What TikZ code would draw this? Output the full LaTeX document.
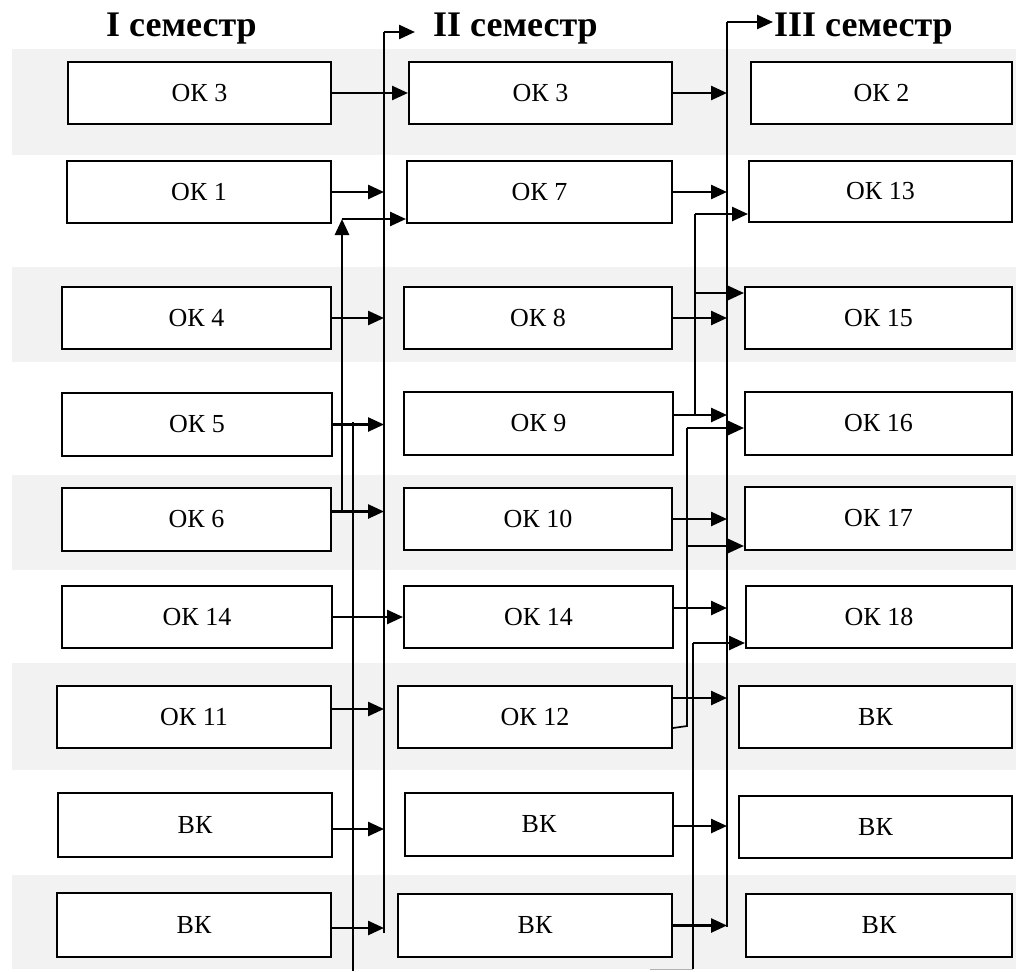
\documentclass[tikz,border=0pt]{standalone}
\usepackage{fontspec}
\setmainfont{Liberation Serif}
\usetikzlibrary{arrows.meta,calc}
\definecolor{band}{HTML}{F2F2F2}
\newcommand{\bx}[6]{%
  \pgfmathsetmacro\bw{#4-#2}\pgfmathsetmacro\bh{#5-#3}%
  \node[box,minimum width=\bw pt,minimum height=\bh pt] (#1) at ({(#2+#4)/2},{(#3+#5)/2}) {#6};}
\begin{document}
\begin{tikzpicture}[x=1pt,y=-1pt,
  box/.style={draw=black,line width=2pt,fill=white,inner sep=0pt,font=\fontsize{26}{30}\selectfont},
  arr/.style={line width=2.5pt,-{Triangle[length=16pt,width=14pt]}},
  vline/.style={line width=1.7pt},
  title/.style={font=\fontsize{36}{40}\selectfont\bfseries,anchor=base west,inner sep=0pt}]
\useasboundingbox (0,0) rectangle (1016,971);
% background bands
\fill[band] (12,49) rectangle (1016,155);
\fill[band] (12,267) rectangle (1016,362);
\fill[band] (12,475) rectangle (1016,570);
\fill[band] (12,663) rectangle (1016,770);
\fill[band] (12,875) rectangle (1016,969);
% titles
\node[title] (t1) at (106,37) {I семестр};
\node[title] (t2) at (433,37) {II семестр};
\node[title] (t3) at (774,37) {III семестр};
% column 1
\bx{a1}{68}{62}{331}{124}{ОК 3}
\bx{a2}{67}{161}{331}{223}{ОК 1}
\bx{a3}{62}{287}{331}{349}{ОК 4}
\bx{a4}{62}{393}{332}{456}{ОК 5}
\bx{a5}{62}{488}{331}{551}{ОК 6}
\bx{a6}{62}{586}{332}{648}{ОК 14}
\bx{a7}{57}{686}{331}{748}{ОК 11}
\bx{a8}{58}{793}{332}{857}{ВК}
\bx{a9}{57}{893}{331}{957}{ВК}
% column 2
\bx{b1}{409}{62}{672}{124}{ОК 3}
\bx{b2}{407}{161}{672}{223}{ОК 7}
\bx{b3}{404}{287}{672}{349}{ОК 8}
\bx{b4}{404}{392}{673}{455}{ОК 9}
\bx{b5}{404}{488}{672}{550}{ОК 10}
\bx{b6}{404}{586}{673}{648}{ОК 14}
\bx{b7}{398}{686}{672}{748}{ОК 12}
\bx{b8}{405}{793}{673}{856}{ВК}
\bx{b9}{398}{894}{672}{957}{ВК}
% column 3
\bx{c1}{751}{62}{1012}{124}{ОК 2}
\bx{c2}{749}{161}{1012}{222}{ОК 13}
\bx{c3}{745}{287}{1012}{349}{ОК 15}
\bx{c4}{745}{392}{1012}{455}{ОК 16}
\bx{c5}{745}{487}{1012}{550}{ОК 17}
\bx{c6}{746}{586}{1012}{648}{ОК 18}
\bx{c7}{739}{686}{1012}{748}{ВК}
\bx{c8}{739}{796}{1012}{858}{ВК}
\bx{c9}{746}{894}{1012}{957}{ВК}
% line A (to II semester)
\coordinate (Atop) at (384,32);
\coordinate (Abot) at (384,933);
\coordinate (Aarr) at (415,32);
\draw[vline] (Abot) -- (Atop);
\draw[arr] (Atop) -- (Aarr);
% line D (to III semester)
\coordinate (Dtop) at (727,22);
\coordinate (Dbot) at (727,927);
\coordinate (Darr) at (773,22);
\draw[vline] (Dbot) -- (Dtop);
\draw[arr] (Dtop) -- (Darr);
% column 1 arrows
\coordinate (p5) at ($(a5.east)+(0,-8)$);
\coordinate (p7) at ($(a7.east)+(0,-8)$);
\coordinate (p8) at ($(a8.east)+(0,4)$);
\coordinate (p9) at ($(a9.east)+(0,3)$);
\draw[arr] (a1.east) -- (b1.west);
\draw[arr] (a2.east) -- (a2.east -| Atop);
\draw[arr] (a3.east) -- (a3.east -| Atop);
\draw[arr] (a4.east) -- (a4.east -| Atop);
\draw[arr] (p5) -- (p5 -| Atop);
\draw[arr] (a6.east) -- (b6.west);
\draw[arr] (p7) -- (p7 -| Atop);
\draw[arr] (p8) -- (p8 -| Atop);
\draw[arr] (p9) -- (p9 -| Atop);
% line C (from OK 6 up to OK 7)
\coordinate (Cb) at (342,511);
\coordinate (Ct) at (342,219);
\draw[line width=2.8pt,-{Triangle[length=16pt,width=14pt]}] (Cb) -- (Ct);
\draw[arr] (Ct) -- (Ct -| b2.west);
% line B
\coordinate (Bt) at (353,422);
\coordinate (Bb) at (353,971);
\draw[vline] (Bt) -- (Bb);
% column 2 arrows
\coordinate (q4) at ($(b4.east)+(0,-8.5)$);
\coordinate (q6) at ($(b6.east)+(0,-9)$);
\coordinate (q7) at ($(b7.east)+(0,-19)$);
\coordinate (q8) at ($(b8.east)+(0,1.5)$);
\draw[arr] (b1.east) -- (b1.east -| Dtop);
\draw[arr] (b2.east) -- (b2.east -| Dtop);
\draw[arr] (b3.east) -- (b3.east -| Dtop);
\draw[arr] (q4) -- (q4 -| Dtop);
\draw[arr] (b5.east) -- (b5.east -| Dtop);
\draw[arr] (q6) -- (q6 -| Dtop);
\draw[arr] (q7) -- (q7 -| Dtop);
\draw[arr] (q8) -- (q8 -| Dtop);
\draw[arr] (b9.east) -- (b9.east -| Dtop);
% line E (from OK 9 to OK 13, OK 15)
\coordinate (Eb) at (695,415);
\coordinate (Et) at (695,214);
\coordinate (Em) at (695,293);
\draw[vline] (Eb) -- (Et);
\draw[arr] (Et) -- (Et -| c2.west);
\draw[arr] (Em) -- (Em -| c3.west);
% line F (from OK 12 to OK 16, OK 17)
\coordinate (F0) at ($(b7.south east)+(0,-21)$);
\coordinate (Fb) at (687,726);
\coordinate (Ft) at (687,428);
\coordinate (Fm) at (687,546);
\draw[vline] (F0) -- (Fb) -- (Ft);
\draw[arr] (Ft) -- (Ft -| c4.west);
\draw[arr] (Fm) -- (Fm -| c5.west);
% line G (to OK 18)
\coordinate (G0) at (650,969);
\coordinate (Gb) at (693,969);
\coordinate (Gt) at (693,643);
\draw[line width=1pt,gray!60] (G0) -- (Gb);
\draw[vline] (Gb) -- (Gt);
\draw[arr] (Gt) -- (Gt -| c6.west);
\end{tikzpicture}
\end{document}
